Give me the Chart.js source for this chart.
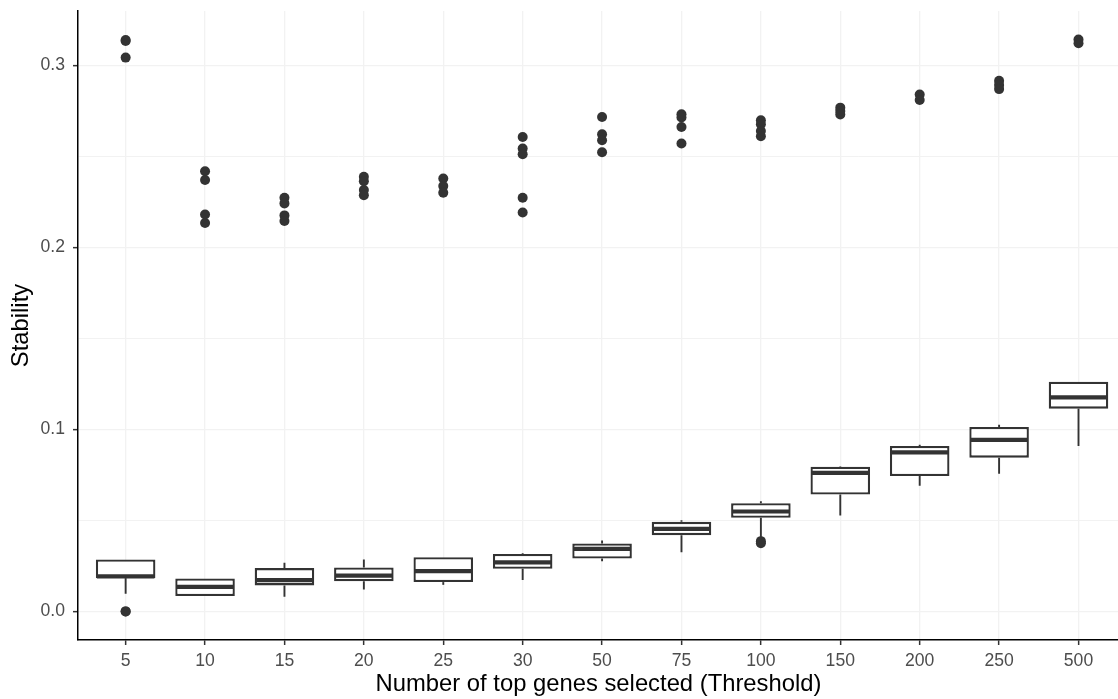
<!DOCTYPE html>
<html>
<head>
<meta charset="utf-8">
<script src="https://cdn.jsdelivr.net/npm/chart.js@4.4.1/dist/chart.umd.min.js"></script>
<style>
  html, body { margin: 0; padding: 0; background: #ffffff; overflow: hidden; }
  #wrap { width: 1118px; height: 699px; position: relative; overflow: hidden; }
  #c { position: absolute; left: 0; top: 0; }
</style>
</head>
<body>
<div id="wrap"><canvas id="c" width="1124" height="699"></canvas></div>
<script>
// ---- data ----
const categories = ['5', '10', '15', '20', '25', '30', '50', '75', '100', '150', '200', '250', '500'];
const q1Values      = [0.0183, 0.0084, 0.0143, 0.0166, 0.0161, 0.0234, 0.0291, 0.0419, 0.0514, 0.0642, 0.0744, 0.0845, 0.1114];
const medianValues  = [0.0192, 0.0135, 0.0172, 0.0197, 0.0221, 0.0269, 0.0344, 0.0454, 0.0549, 0.0761, 0.0874, 0.0942, 0.1176];
const q3Values      = [0.0285, 0.0181, 0.0238, 0.0241, 0.0298, 0.0316, 0.0373, 0.0492, 0.0594, 0.0795, 0.0909, 0.1013, 0.1262];
const whiskerLow    = [0.0097, 0.0084, 0.0081, 0.0121, 0.0146, 0.0172, 0.0276, 0.0325, 0.0406, 0.0527, 0.0691, 0.0757, 0.0909];
const whiskerHigh   = [0.0285, 0.0181, 0.0267, 0.0285, 0.0298, 0.0320, 0.0389, 0.0501, 0.0605, 0.0797, 0.0916, 0.1026, 0.1262];
const outliers = [
  [0.3140, 0.3134, 0.3043, 0.0, 0.0],
  [0.2419, 0.2370, 0.2181, 0.2134],
  [0.2273, 0.2242, 0.2176, 0.2145],
  [0.2388, 0.2364, 0.2315, 0.2287],
  [0.2379, 0.2337, 0.2300],
  [0.2607, 0.2544, 0.2512, 0.2273, 0.2192],
  [0.2717, 0.2622, 0.2589, 0.2523],
  [0.2732, 0.2714, 0.2662, 0.2571],
  [0.2699, 0.2677, 0.2640, 0.2611, 0.0386, 0.0375],
  [0.2768, 0.2750, 0.2731],
  [0.2840, 0.2810],
  [0.2916, 0.2893, 0.2870],
  [0.3142, 0.3122]
];
const yMajorTicks = [0.0, 0.1, 0.2, 0.3];
const yMinorGrid  = [0.05, 0.15, 0.25];
const xTitle = 'Number of top genes selected (Threshold)';
const yTitle = 'Stability';

// ---- build library structures ----
const boxData = categories.map((c, i) => ({ x: i + 1, y: [q1Values[i], q3Values[i]] }));
const outlierData = [];
outliers.forEach((arr, i) => arr.forEach(v => outlierData.push({ x: i + 1, y: v })));

const allVals = [].concat(...outliers, whiskerLow, whiskerHigh);
const dMin = Math.min(...allVals), dMax = Math.max(...allVals);
const pad = 0.05 * (dMax - dMin);

const INK = '#333333';
const FONT = "'Liberation Sans', Arial, Helvetica, sans-serif";
const isMajor = (v) => yMajorTicks.some(m => Math.abs(m - v) < 1e-9);

const boxPlugin = {
  id: 'boxParts',
  beforeDatasetsDraw(chart) {
    const { ctx, scales: { x, y } } = chart;
    ctx.save();
    ctx.strokeStyle = INK;
    ctx.lineWidth = 1.9;
    ctx.lineCap = 'butt';
    categories.forEach((c, i) => {
      const px = x.getPixelForValue(i + 1);
      ctx.beginPath();
      ctx.moveTo(px, y.getPixelForValue(q3Values[i]));
      ctx.lineTo(px, y.getPixelForValue(whiskerHigh[i]));
      ctx.moveTo(px, y.getPixelForValue(q1Values[i]));
      ctx.lineTo(px, y.getPixelForValue(whiskerLow[i]));
      ctx.stroke();
    });
    ctx.restore();
  },
  afterDatasetDraw(chart, args) {
    if (args.index !== 0) return;
    const { ctx, scales: { y } } = chart;
    const meta = chart.getDatasetMeta(0);
    ctx.save();
    ctx.strokeStyle = INK;
    ctx.lineWidth = 4.2;
    categories.forEach((c, i) => {
      const el = meta.data[i];
      const half = el.width / 2;
      const py = y.getPixelForValue(medianValues[i]);
      ctx.beginPath();
      ctx.moveTo(el.x - half + 1, py);
      ctx.lineTo(el.x + half - 1, py);
      ctx.stroke();
    });
    ctx.restore();
  }
};

new Chart(document.getElementById('c'), {
  type: 'bar',
  data: {
    datasets: [
      {
        type: 'bar',
        label: 'box',
        data: boxData,
        backgroundColor: '#ffffff',
        borderColor: INK,
        borderWidth: 2.3,
        borderSkipped: false,
        categoryPercentage: 0.75,
        barPercentage: 1.0,
        order: 2
      },
      {
        type: 'scatter',
        label: 'outliers',
        data: outlierData,
        backgroundColor: INK,
        borderWidth: 0,
        pointRadius: 5,
        order: 1
      }
    ]
  },
  options: {
    responsive: false,
    animation: false,
    devicePixelRatio: 1,
    layout: { padding: { top: 11, right: 0, bottom: 0, left: 0 } },
    plugins: { legend: { display: false }, tooltip: { enabled: false } },
    scales: {
      x: {
        type: 'linear',
        min: 0.4,
        max: 13.51,
        offset: false,
        afterBuildTicks(scale) { scale.ticks = categories.map((c, i) => ({ value: i + 1 })); },
        afterFit(scale) { scale.height = 59; scale.paddingLeft = 0; scale.paddingRight = 0; },
        ticks: {
          callback: (v) => categories[Math.round(v) - 1],
          color: '#4D4D4D',
          font: { family: FONT, size: 17.6 },
          padding: 6,
          maxRotation: 0,
          autoSkip: false
        },
        grid: { offset: false, color: '#F2F2F2', lineWidth: 1.3, tickColor: INK, tickLength: 5, tickWidth: 1.5 },
        border: { display: true, color: '#000000', width: 1.5 },
        title: { display: true, text: xTitle, color: '#000000', font: { family: FONT, size: 23.8 }, padding: { top: 2, bottom: 0 } }
      },
      y: {
        type: 'linear',
        min: dMin - pad,
        max: dMax + pad,
        afterBuildTicks(scale) {
          scale.ticks = yMajorTicks.concat(yMinorGrid).sort((a, b) => a - b).map(v => ({ value: v }));
        },
        afterFit(scale) { scale.width = 78; scale.paddingTop = 0; scale.paddingBottom = 0; },
        ticks: {
          callback: (v) => isMajor(v) ? v.toFixed(1) : '',
          color: '#4D4D4D',
          font: { family: FONT, size: 17.6 },
          padding: 8
        },
        grid: {
          color: '#F2F2F2',
          lineWidth: (ctx) => (ctx.tick && isMajor(ctx.tick.value)) ? 1.3 : 1,
          tickColor: (ctx) => (ctx.tick && isMajor(ctx.tick.value)) ? INK : 'rgba(0,0,0,0)',
          tickLength: 5,
          tickWidth: 1.5
        },
        border: { display: true, color: '#000000', width: 1.5 },
        title: { display: true, text: yTitle, color: '#000000', font: { family: FONT, size: 23.8 }, padding: { top: 7, bottom: 0 } }
      }
    }
  },
  plugins: [boxPlugin]
});
</script>
</body>
</html>
